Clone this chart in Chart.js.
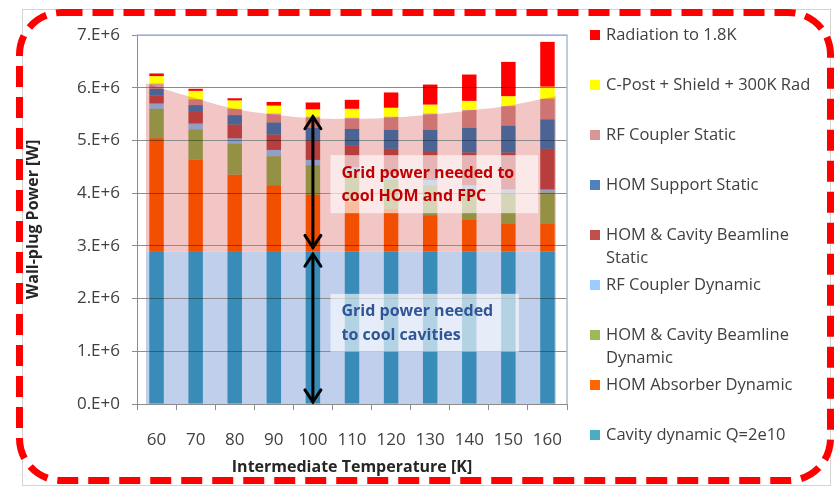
<!DOCTYPE html>
<html>
<head>
<meta charset="utf-8">
<script src="https://cdn.jsdelivr.net/npm/chart.js@4.4.1/dist/chart.umd.min.js"></script>
<style>
  html, body { margin: 0; padding: 0; background: #fff; }
  #wrap { width: 839px; height: 487px; position: relative; }
  canvas { background: #fff; }
</style>
</head>
<body>
<div id="wrap"><canvas id="chart" width="839" height="487"></canvas></div>
<script>
// Intermediate temperature categories [K]
const temps = ['60', '70', '80', '90', '100', '110', '120', '130', '140', '150', '160']

// wall-plug power per contribution [W], bottom of the stack first
const cavityDyn   = [2.90e6, 2.90e6, 2.90e6, 2.90e6, 2.90e6, 2.90e6, 2.90e6, 2.90e6, 2.90e6, 2.90e6, 2.90e6]
const homAbsDyn   = [2.14e6, 1.74e6, 1.45e6, 1.25e6, 1.07e6, 0.93e6, 0.80e6, 0.68e6, 0.59e6, 0.52e6, 0.52e6]
const homCavDyn   = [0.56e6, 0.57e6, 0.59e6, 0.55e6, 0.56e6, 0.56e6, 0.56e6, 0.57e6, 0.56e6, 0.57e6, 0.59e6]
const rfCplDyn    = [0.10e6, 0.11e6, 0.10e6, 0.12e6, 0.10e6, 0.10e6, 0.10e6, 0.10e6, 0.10e6, 0.08e6, 0.06e6]
const homCavStat  = [0.15e6, 0.22e6, 0.26e6, 0.29e6, 0.37e6, 0.42e6, 0.48e6, 0.55e6, 0.62e6, 0.70e6, 0.77e6]
const homSupStat  = [0.13e6, 0.13e6, 0.18e6, 0.23e6, 0.24e6, 0.31e6, 0.36e6, 0.40e6, 0.47e6, 0.51e6, 0.56e6]
const rfCplStat   = [0.10e6, 0.11e6, 0.12e6, 0.17e6, 0.21e6, 0.21e6, 0.25e6, 0.31e6, 0.34e6, 0.37e6, 0.39e6]
const cPostShield = [0.14e6, 0.16e6, 0.16e6, 0.15e6, 0.14e6, 0.17e6, 0.17e6, 0.17e6, 0.17e6, 0.19e6, 0.23e6]
const radiation   = [0.05e6, 0.04e6, 0.04e6, 0.07e6, 0.13e6, 0.17e6, 0.29e6, 0.38e6, 0.50e6, 0.65e6, 0.85e6]

const seriesNames = [
    'Cavity dynamic Q=2e10',
    'HOM Absorber Dynamic',
    'HOM & Cavity Beamline\nDynamic',
    'RF Coupler Dynamic',
    'HOM & Cavity Beamline\nStatic',
    'HOM Support Static',
    'RF Coupler Static',
    'C-Post + Shield + 300K Rad',
    'Radiation to 1.8K',
]
const seriesValues = [cavityDyn, homAbsDyn, homCavDyn, rfCplDyn, homCavStat, homSupStat, rfCplStat, cPostShield, radiation]
const seriesColors = ['#4BACC6', '#FF6600', '#9BBB59', '#99CCFF', '#C0504D', '#4F81BD', '#D99694', '#FFFF00', '#FF0000']

// shaded bands: cavity share and the smooth HOM + FPC envelope
const cavityBand = 2.90e6
const envelope   = [6.02e6, 5.80e6, 5.60e6, 5.49e6, 5.42e6, 5.41e6, 5.43e6, 5.49e6, 5.57e6, 5.66e6, 5.81e6]
const envelopeEdges = [6.08e6, 5.84e6]

const yTickLabels = ['0.E+0', '1.E+6', '2.E+6', '3.E+6', '4.E+6', '5.E+6', '6.E+6', '7.E+6']

const FONT = "'Open Sans', sans-serif"
const bandFrom = -0.27, bandTo = 10.22

const barSets = seriesValues.map((vals, i) => ({
    type: 'bar',
    label: seriesNames[i],
    data: vals,
    backgroundColor: seriesColors[i],
    borderWidth: 0,
    stack: 'power',
    order: 2,
    blend: true,
    grouped: false,
    categoryPercentage: 1,
    barPercentage: 0.37,
}))

const bandSets = [
    {
        type: 'line',
        data: [{ x: bandFrom, y: cavityBand }, { x: bandTo, y: cavityBand }],
        xAxisID: 'xl', stack: 'bandA', order: 1,
        borderWidth: 0, pointRadius: 0,
        fill: 'origin', backgroundColor: 'rgb(191,207,236)',
    },
    {
        type: 'line',
        data: [{ x: bandFrom, y: envelopeEdges[0] }]
            .concat(envelope.map((v, i) => ({ x: i, y: v })))
            .concat([{ x: bandTo, y: envelopeEdges[1] }]),
        xAxisID: 'xl', stack: 'bandB', order: 1,
        borderWidth: 0, pointRadius: 0, tension: 0.4,
        fill: { value: cavityBand }, backgroundColor: 'rgb(243,198,198)',
    },
]

// bars are multiplied over the shaded bands, like the transparent overlay in the original slide
const blendBars = {
    id: 'blendBars',
    beforeDatasetDraw(chart, args) {
        if (chart.data.datasets[args.index].blend) {
            chart.ctx.save()
            chart.ctx.globalCompositeOperation = 'multiply'
        }
    },
    afterDatasetDraw(chart, args) {
        if (chart.data.datasets[args.index].blend) chart.ctx.restore()
    },
}

function arrowHead(ctx, x, y, dir) {
    ctx.beginPath()
    ctx.moveTo(x - 8, y - dir * 12)
    ctx.lineTo(x, y)
    ctx.lineTo(x + 8, y - dir * 12)
    ctx.stroke()
}

const decorations = {
    id: 'decorations',
    afterDraw(chart) {
        const { ctx, chartArea: a } = chart
        const xs = chart.scales.xl, ys = chart.scales.y
        ctx.save()

        // plot frame top/right
        ctx.strokeStyle = '#a9bad6'
        ctx.lineWidth = 1.5
        ctx.beginPath()
        ctx.moveTo(a.left, a.top); ctx.lineTo(a.right, a.top); ctx.lineTo(a.right, a.bottom)
        ctx.stroke()

        // double arrows at 100 K
        const ax = xs.getPixelForValue(4)
        ctx.strokeStyle = '#000'
        ctx.lineWidth = 3
        ctx.lineCap = 'round'
        const segs = [[5.45e6, 2.97e6], [2.84e6, 0.04e6]]
        segs.forEach(([t, b]) => {
            const yt = ys.getPixelForValue(t), yb = ys.getPixelForValue(b)
            ctx.beginPath(); ctx.moveTo(ax, yt); ctx.lineTo(ax, yb); ctx.stroke()
            arrowHead(ctx, ax, yt, -1)
            arrowHead(ctx, ax, yb, 1)
        })

        // annotation boxes
        const boxes = [
            { x0: 4.45, x1: 9.76, y0: 4.72e6, y1: 3.62e6, color: '#C00000',
              lines: ['Grid power needed to', 'cool HOM and FPC'], ly: [4.38e6, 3.93e6] },
            { x0: 4.45, x1: 9.27, y0: 2.09e6, y1: 0.99e6, color: '#2F5597',
              lines: ['Grid power needed', 'to cool cavities'], ly: [1.76e6, 1.31e6] },
        ]
        boxes.forEach(b => {
            const px0 = xs.getPixelForValue(b.x0), px1 = xs.getPixelForValue(b.x1)
            const py0 = ys.getPixelForValue(b.y0), py1 = ys.getPixelForValue(b.y1)
            ctx.fillStyle = 'rgba(255,255,255,0.62)'
            ctx.fillRect(px0, py0, px1 - px0, py1 - py0)
            ctx.fillStyle = b.color
            ctx.font = "bold 16px " + FONT
            ctx.textBaseline = 'middle'
            ctx.textAlign = 'left'
            b.lines.forEach((t, i) => ctx.fillText(t, px0 + 11, ys.getPixelForValue(b.ly[i])))
        })

        // legend, top item = last series
        ctx.font = "16.5px " + FONT
        ctx.textBaseline = 'middle'
        for (let k = 0; k < seriesNames.length; k++) {
            const i = seriesNames.length - 1 - k
            const y = 35 + k * 50
            ctx.fillStyle = seriesColors[i]
            ctx.fillRect(590, y - 5, 10, 10)
            ctx.fillStyle = '#404040'
            seriesNames[i].split('\n').forEach((t, j) => ctx.fillText(t, 606, y + j * 23.5))
        }

        // slide frame and dashed highlight
        ctx.strokeStyle = '#d4d4d4'
        ctx.lineWidth = 1
        ctx.strokeRect(22.5, 9.5, 808, 476)
        ctx.strokeStyle = '#ff0000'
        ctx.lineWidth = 7
        ctx.lineCap = 'butt'
        ctx.setLineDash([21, 10])
        ctx.beginPath()
        ctx.roundRect(19.5, 12.5, 811, 468, 42)
        ctx.stroke()
        ctx.restore()
    },
}

new Chart(document.getElementById('chart'), {
    type: 'bar',
    data: { labels: temps, datasets: barSets.concat(bandSets) },
    options: {
        responsive: false,
        animation: false,
        layout: { padding: { top: 35, right: 272, bottom: 0, left: 0 } },
        plugins: {
            legend: { display: false },
            tooltip: { enabled: false },
            filler: { drawTime: 'beforeDraw' },
        },
        scales: {
            x: {
                type: 'category', stacked: true, offset: true,
                grid: { drawOnChartArea: false, drawTicks: true, tickLength: 6, color: '#8c8c8c', offset: true },
                border: { color: '#8c8c8c' },
                ticks: { padding: 20, color: '#404040', font: { size: 17, family: FONT } },
                title: { display: true, text: 'Intermediate Temperature [K]', color: '#262626',
                         font: { size: 16, weight: 'bold', family: FONT }, padding: { top: 0, bottom: 10 } },
                afterFit(s) { s.height = 83 },
            },
            xl: { type: 'linear', display: false, offset: false, min: -0.5, max: 10.5 },
            y: {
                stacked: true, min: 0, max: 7e6,
                ticks: { stepSize: 1e6, padding: 12, color: '#404040', font: { size: 17, family: FONT },
                         callback: (v, i) => yTickLabels[i] },
                grid: { color: '#8c8c8c', tickLength: 5 },
                border: { color: '#8c8c8c' },
                title: { display: true, text: 'Wall-plug Power [W]', color: '#262626',
                         font: { size: 16, weight: 'bold', family: FONT }, padding: { top: 24, bottom: 0 } },
                afterFit(s) { s.width = 137 },
            },
        },
    },
    plugins: [blendBars, decorations],
})
</script>
</body>
</html>
